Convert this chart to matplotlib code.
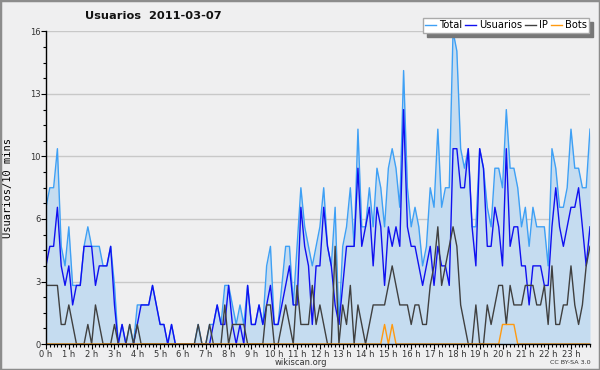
import matplotlib
matplotlib.use("Agg")
import matplotlib.pyplot as plt
from matplotlib.ticker import MultipleLocator, FixedLocator
from matplotlib.lines import Line2D
import numpy as np

# one value every 10 minutes, 00:00 -> 23:50
total = [7, 8, 8, 10, 5, 4, 6, 3, 3, 3, 5, 6, 5, 5, 5, 4, 4, 5, 3, 0,
         1, 0, 1, 0, 2, 2, 2, 2, 3, 2, 1, 1, 0, 1, 0, 0, 0, 0, 0, 0,
         1, 0, 0, 1, 1, 2, 1, 3, 3, 2, 1, 2, 1, 3, 1, 1, 2, 1, 4, 5,
         1, 1, 3, 5, 5, 2, 5, 8, 6, 5, 4, 5, 6, 8, 5, 4, 7, 1, 5, 6,
         8, 5, 11, 6, 6, 8, 6, 9, 8, 6, 9, 10, 9, 7, 14, 8, 6, 7, 6, 4,
         5, 8, 7, 11, 7, 8, 8, 16, 15, 10, 9, 10, 6, 6, 10, 9, 7, 6, 9, 9,
         8, 12, 9, 9, 8, 6, 7, 5, 7, 6, 6, 6, 4, 10, 9, 7, 7, 8, 11, 9,
         9, 8, 8, 11]
usuarios = [4, 5, 5, 7, 4, 3, 4, 2, 3, 3, 5, 5, 5, 3, 4, 4, 4, 5, 2, 0,
            1, 0, 0, 0, 1, 2, 2, 2, 3, 2, 1, 1, 0, 1, 0, 0, 0, 0, 0, 0,
            0, 0, 0, 0, 1, 2, 1, 1, 3, 1, 0, 1, 0, 3, 1, 1, 2, 1, 2, 3,
            1, 1, 2, 3, 4, 2, 2, 7, 5, 4, 1, 4, 4, 7, 5, 4, 2, 1, 3, 5,
            5, 5, 9, 5, 6, 7, 4, 7, 6, 3, 6, 5, 6, 5, 12, 6, 5, 5, 4, 3,
            4, 5, 3, 5, 4, 4, 3, 10, 10, 8, 8, 10, 6, 4, 10, 9, 5, 5, 7, 6,
            4, 10, 5, 6, 6, 4, 4, 2, 4, 4, 4, 3, 3, 6, 8, 6, 5, 6, 7, 7,
            8, 6, 4, 6]
ip = [3, 3, 3, 3, 1, 1, 2, 1, 0, 0, 0, 1, 0, 2, 1, 0, 0, 0, 1, 0,
      0, 0, 1, 0, 1, 0, 0, 0, 0, 0, 0, 0, 0, 0, 0, 0, 0, 0, 0, 0,
      1, 0, 0, 1, 0, 0, 0, 2, 0, 1, 1, 1, 1, 0, 0, 0, 0, 0, 2, 2,
      0, 0, 1, 2, 1, 0, 3, 1, 1, 1, 3, 1, 2, 1, 0, 0, 5, 0, 2, 1,
      3, 0, 2, 1, 0, 1, 2, 2, 2, 2, 3, 4, 3, 2, 2, 2, 1, 2, 2, 1,
      1, 3, 4, 6, 3, 4, 5, 6, 5, 2, 1, 0, 0, 2, 0, 0, 2, 1, 2, 3,
      3, 1, 3, 2, 2, 2, 3, 3, 3, 2, 2, 3, 1, 4, 1, 1, 2, 2, 4, 2,
      1, 2, 4, 5]
bots = [0] * 89 + [1, 0, 1] + [0] * 28 + [1, 1, 1, 1] + [0] * 20
hour_labels = [f"{h} h" for h in range(24)]
y_ticks = [0, 3.2, 6.4, 9.6, 12.8, 16]
y_labels = ["0", "3", "6", "10", "13", "16"]

bg = "#efeff0"
fig = plt.figure(figsize=(6, 3.7), dpi=100)
fig.patch.set_facecolor(bg)

ax = fig.add_axes([46 / 600, 26 / 370, 544 / 600, 312.5 / 370])
ax.set_facecolor(bg)

x = np.arange(len(total))
ax.fill_between(x, total, color="#c5dcf0", lw=0, zorder=1)
ax.plot(x, total, color="#3ea0f5", lw=1, zorder=3)
ax.plot(x, usuarios, color="#1010f0", lw=1, zorder=4)
ax.plot(x, ip, color="#404040", lw=1, zorder=5)
ax.plot(x, bots, color="#ff9a10", lw=1, zorder=6)

ax.set_xlim(0, len(total) - 1)
ax.set_ylim(0, 16)

ax.xaxis.set_major_locator(FixedLocator(range(0, 144, 6)))
ax.set_xticklabels(hour_labels)
ax.xaxis.set_minor_locator(MultipleLocator(1))
ax.yaxis.set_major_locator(FixedLocator(y_ticks))
ax.set_yticklabels(y_labels)
ax.yaxis.set_minor_locator(MultipleLocator(0.8))

ax.tick_params(which="major", length=3.5, width=0.8, labelsize=6,
               labelcolor="#333333", pad=0.5)
ax.tick_params(which="minor", length=2.2, width=0.8)
ax.grid(axis="y", which="major", color="#c8c8c8", lw=1, zorder=0)
ax.set_axisbelow(True)
for s in ["top", "right"]:
    ax.spines[s].set_visible(False)
for s in ["left", "bottom"]:
    ax.spines[s].set_linewidth(1)
    ax.spines[s].set_zorder(10)

ax.set_ylabel("Usuarios/10 mins", family="DejaVu Sans Mono", fontsize=7.5,
              labelpad=12)

fig.text(85 / 600, 1 - 16 / 370, "Usuarios  2011-03-07", fontsize=8.2,
         fontweight="bold", va="center", ha="left", color="#111111")
fig.text(301 / 600, 1 - 362.5 / 370, "wikiscan.org", fontsize=6,
         ha="center", va="center", color="#333333")
fig.text(591 / 600, 1 - 362.5 / 370, "CC BY-SA 3.0", fontsize=4.6,
         ha="right", va="center", color="#333333")

handles = [Line2D([], [], color=c, lw=1) for c in
           ["#3ea0f5", "#1010f0", "#404040", "#ff9a10"]]
leg = fig.legend(handles, ["Total", "Usuarios", "IP", "Bots"], ncol=4,
                 loc="upper right", bbox_to_anchor=(589 / 600, 1 - 18 / 370),
                 fontsize=7.1, frameon=True, fancybox=False,
                 shadow={"color": "#777777", "alpha": 1, "ox": 3, "oy": -3},
                 handlelength=1.1, handletextpad=0.3, columnspacing=0.3,
                 borderpad=0.25, borderaxespad=0)
leg.get_frame().set_edgecolor("#aaaaaa")
leg.get_frame().set_facecolor("white")
leg.get_frame().set_linewidth(1)

# grey frame round the whole picture
fig.add_artist(plt.Rectangle((0, 0), 1, 1, transform=fig.transFigure,
                             fill=False, edgecolor="#8c8c8c", lw=2.5))

fig.savefig("out.png", dpi=100, facecolor=bg)
